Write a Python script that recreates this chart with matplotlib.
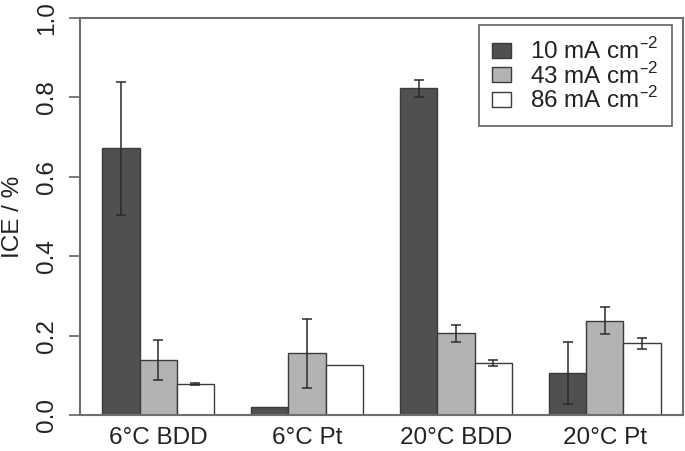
import numpy as np
import matplotlib
matplotlib.use("Agg")
import matplotlib.pyplot as plt

plt.rcParams['font.family'] = ['Liberation Sans', 'DejaVu Sans']

# Dados
grupos = ['6°C BDD', '6°C Pt', '20°C BDD', '20°C Pt']
series = ['10 mA cm$^{\\mathregular{–2}}$', '43 mA cm$^{\\mathregular{–2}}$',
          '86 mA cm$^{\\mathregular{–2}}$']
ice_10 = [0.672, 0.020, 0.823, 0.106]
ice_43 = [0.139, 0.155, 0.206, 0.237]
ice_86 = [0.078, 0.126, 0.131, 0.181]
err_10 = [0.168, np.nan, 0.022, 0.078]
err_43 = [0.050, 0.086, 0.021, 0.034]
err_86 = [0.002, np.nan, 0.007, 0.014]

cores = ['#505050', '#b3b3b3', '#ffffff']
cinza = '#6e6e6e'
fs = 17.5

fig = plt.figure(figsize=(6.85, 4.51), dpi=100)
ax = fig.add_axes([80/685, 36/451, 603/685, 397/451])

valores = [ice_10, ice_43, ice_86]
erros = [err_10, err_43, err_86]
# estilo barplot do R: 3 barras por grupo, espaco de 1 barra entre grupos
base = np.arange(len(grupos)) * 4 + 1
for k in range(3):
    x = base + k + 0.5
    ax.bar(x, valores[k], width=1.0, color=cores[k], edgecolor='#3a3a3a',
           linewidth=1.0, label=series[k], zorder=2)
    e = np.array(erros[k])
    ok = ~np.isnan(e)
    ax.errorbar(x[ok], np.array(valores[k])[ok], yerr=e[ok], fmt='none',
                ecolor='#2a2a2a', elinewidth=1.1, capsize=3.6, capthick=1.1,
                zorder=3)

ax.set_xlim(0.4, 16.6)
ax.set_ylim(0, 1.0)
ax.set_xticks(base + 1.5)
ax.set_xticklabels(grupos, fontsize=fs, color='#222222')
ax.tick_params(axis='x', length=0, pad=9)
ax.set_yticks([0.0, 0.2, 0.4, 0.6, 0.8, 1.0])
ax.set_yticklabels(['0.0', '0.2', '0.4', '0.6', '0.8', '1.0'],
                   rotation=90, va='center', fontsize=fs, color='#222222')
ax.tick_params(axis='y', length=8, width=1.3, color=cinza, pad=7.5)
ax.set_ylabel('ICE / %', fontsize=fs, color='#222222', labelpad=9)

for s in ax.spines.values():
    s.set_color(cinza)
    s.set_linewidth(1.5)

leg = ax.legend(loc='upper right', bbox_to_anchor=(0.981, 0.983), fontsize=17.5,
                frameon=True, fancybox=False, framealpha=1, edgecolor=cinza,
                handlelength=0.78, handleheight=0.58, handletextpad=0.75,
                labelspacing=-0.06, borderpad=0.55, borderaxespad=0)
leg.get_frame().set_linewidth(1.3)
for t in leg.get_texts():
    t.set_color('#222222')

fig.savefig('out.png', dpi=100)
